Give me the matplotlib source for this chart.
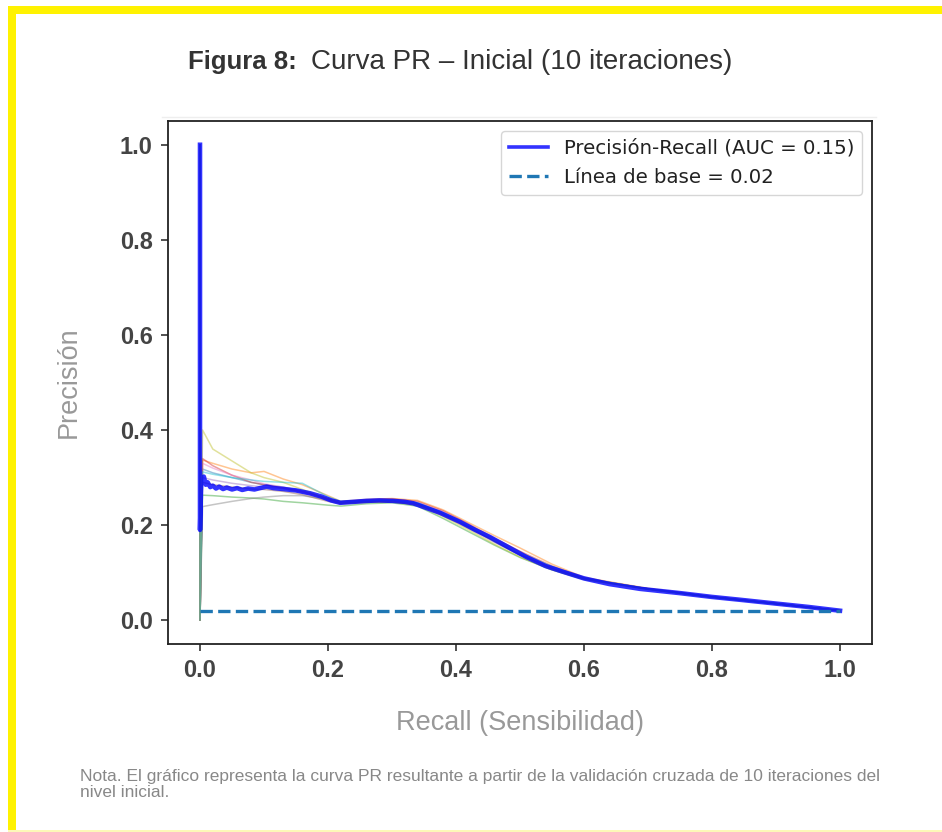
import matplotlib
matplotlib.use("Agg")
import matplotlib.pyplot as plt
from matplotlib.lines import Line2D
from matplotlib.patches import Rectangle

# ---------------- data ----------------
title_bold = "Figura 8:"
title_rest = "Curva PR – Inicial (10 iteraciones)"
xlabel = "Recall (Sensibilidad)"
ylabel = "Precisión"
note = ("Nota. El gráfico representa la curva PR resultante a partir de la validación cruzada de 10 iteraciones del\n"
        "nivel inicial.")
legend_main = "Precisión-Recall (AUC = 0.15)"
legend_base = "Línea de base = 0.02"
baseline = 0.02
ticks = [0.0, 0.2, 0.4, 0.6, 0.8, 1.0]
tick_labels = ["0.0", "0.2", "0.4", "0.6", "0.8", "1.0"]

mean_recall = [0, 0, 0.002, 0.004, 0.006, 0.009, 0.012, 0.016, 0.02, 0.025, 0.03, 0.036,
               0.042, 0.05, 0.058, 0.066, 0.075, 0.085, 0.094, 0.104, 0.115, 0.13, 0.15,
               0.172, 0.19, 0.205, 0.219, 0.24, 0.26, 0.28, 0.302, 0.32, 0.333, 0.35,
               0.375, 0.406, 0.43, 0.453, 0.48, 0.51, 0.54, 0.567, 0.6, 0.64, 0.6875,
               0.75, 0.8, 0.844, 0.9, 0.95, 1.0]
mean_precision = [1.0, 0.19, 0.30, 0.29, 0.302, 0.285, 0.29, 0.28, 0.283, 0.277, 0.281, 0.276,
                  0.279, 0.275, 0.278, 0.274, 0.277, 0.275, 0.278, 0.281, 0.278, 0.276, 0.273,
                  0.267, 0.26, 0.252, 0.247, 0.249, 0.251, 0.252, 0.251, 0.249, 0.246, 0.238,
                  0.226, 0.207, 0.19, 0.175, 0.155, 0.133, 0.114, 0.102, 0.088, 0.076, 0.066,
                  0.057, 0.049, 0.043, 0.035, 0.028, 0.02]

fold_recall = [0, 0, 0.004, 0.02, 0.05, 0.08, 0.1, 0.13, 0.16, 0.2, 0.22, 0.26, 0.3, 0.34,
               0.38, 0.42, 0.46, 0.5, 0.55, 0.6, 0.7, 0.8, 0.9, 1.0]
fold_1 = [1.0, 0.0, .318, .31, .30, .29, .285, .28, .272, .255, .246, .25, .252, .247, .225, .197, .165, .137, .108, .087, .066, .049, .035, .02]
fold_2 = [1.0, 0.0, .337, .33, .318, .31, .313, .297, .285, .262, .25, .254, .256, .252, .232, .205, .178, .152, .118, .09, .067, .05, .036, .02]
fold_3 = [1.0, 0.0, .263, .262, .259, .257, .255, .25, .247, .242, .24, .245, .247, .24, .214, .186, .158, .132, .106, .086, .065, .048, .034, .02]
fold_4 = [1.0, 0.0, .34, .325, .305, .29, .285, .278, .27, .256, .249, .253, .255, .25, .23, .202, .172, .145, .114, .089, .066, .049, .035, .02]
fold_5 = [1.0, 0.0, .30, .295, .288, .283, .28, .277, .268, .252, .246, .249, .25, .244, .22, .193, .164, .137, .109, .087, .066, .049, .035, .02]
fold_6 = [1.0, 0.0, .29, .285, .28, .276, .275, .271, .264, .25, .245, .248, .249, .243, .222, .195, .166, .138, .11, .088, .066, .049, .035, .02]
fold_7 = [1.0, 0.0, .33, .32, .305, .295, .287, .28, .271, .255, .248, .252, .253, .248, .228, .20, .17, .141, .112, .088, .066, .049, .035, .02]
fold_8 = [1.0, 0.0, .239, .243, .25, .256, .259, .262, .262, .254, .247, .25, .251, .245, .223, .196, .167, .139, .11, .088, .066, .049, .035, .02]
fold_9 = [1.0, 0.0, .40, .36, .335, .31, .30, .29, .275, .255, .246, .248, .249, .242, .218, .19, .16, .133, .106, .086, .065, .048, .035, .02]
fold_10 = [1.0, 0.0, .312, .307, .30, .295, .292, .29, .288, .26, .25, .252, .253, .247, .226, .199, .17, .142, .113, .089, .066, .049, .035, .02]
folds = [fold_1, fold_2, fold_3, fold_4, fold_5, fold_6, fold_7, fold_8, fold_9, fold_10]

# ---------------- figure ----------------
W, H = 942, 832
fig = plt.figure(figsize=(W / 100, H / 100), dpi=100)
fig.patch.set_facecolor("white")
FAM = ["Liberation Sans", "DejaVu Sans"]

# yellow frame
yellow = "#fff200"
fig.patches.append(Rectangle((8 / W, 1 - 14 / H), 1 - 8 / W, 8 / H, transform=fig.transFigure,
                             facecolor=yellow, edgecolor="none"))
fig.patches.append(Rectangle((8 / W, 0), 8 / W, 1 - 6 / H, transform=fig.transFigure,
                             facecolor=yellow, edgecolor="none"))
fig.patches.append(Rectangle((8 / W, 0), 1 - 8 / W, 2 / H, transform=fig.transFigure,
                             facecolor="#fdf8b8", edgecolor="none"))
# faint frame line above the plot image
fig.add_artist(Line2D([162 / W, 876 / W], [1 - 117 / H, 1 - 117 / H], transform=fig.transFigure,
                      color="#eeeeee", lw=1))

ax = fig.add_axes([168 / W, 1 - 644 / H, (872 - 168) / W, (644 - 121) / H])

tab10 = plt.get_cmap("tab10").colors
for i, fy in enumerate(folds):
    ax.plot(fold_recall, fy, color=tab10[i], lw=1.1, alpha=0.45)

ax.plot(mean_recall, mean_precision, color="blue", lw=3.3, alpha=0.8, label=legend_main)
ax.plot([0, 1], [baseline, baseline], linestyle="--", color="#1f77b4", lw=2.4, label=legend_base)

ax.set_xlim(-0.05, 1.05)
ax.set_ylim(-0.05, 1.05)
ax.set_xticks(ticks)
ax.set_xticklabels(tick_labels)
ax.set_yticks(ticks)
ax.set_yticklabels(tick_labels)
ax.tick_params(axis="both", length=5, width=1.2, color="#333333", pad=6)
for lab in ax.get_xticklabels() + ax.get_yticklabels():
    lab.set_fontfamily(FAM)
    lab.set_fontweight("bold")
    lab.set_fontsize(17)
    lab.set_color("#444444")
for sp in ax.spines.values():
    sp.set_linewidth(1.3)
    sp.set_color("#222222")

leg = ax.legend(loc="upper right", fontsize=14.2, frameon=True, fancybox=True)
leg.get_frame().set_edgecolor("#cccccc")
for t in leg.get_texts():
    t.set_color("#222222")
leg.get_lines()[0].set_linewidth(2.6)

ax.set_xlabel(xlabel, fontsize=19.5, color="#999999", family=FAM, labelpad=20)
ax.set_ylabel(ylabel, fontsize=19.5, color="#999999", family=FAM, labelpad=27)

# title
fig.text(188 / W, 1 - 62 / H, title_bold, fontsize=18.5, fontweight="bold", color="#333333",
         family=FAM, va="center", ha="left")
fig.text(311 / W, 1 - 62 / H, title_rest, fontsize=20, color="#333333",
         family=FAM, va="center", ha="left")

# note
fig.text(80 / W, 1 - 769 / H, note, fontsize=12.5, color="#888888",
         family=FAM, va="top", ha="left", linespacing=1.1)

fig.savefig("out.png", dpi=100, facecolor="white")
